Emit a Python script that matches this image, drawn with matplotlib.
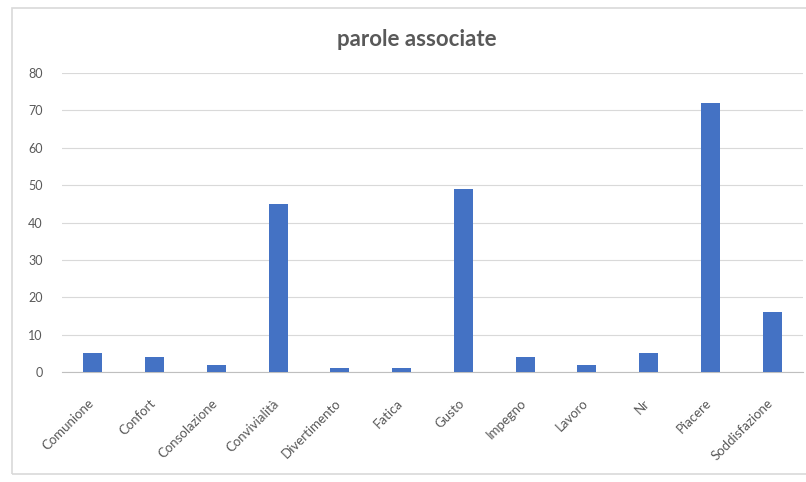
import matplotlib
matplotlib.use("Agg")
import matplotlib.pyplot as plt
from matplotlib.patches import Rectangle
from matplotlib.transforms import ScaledTranslation

categories = ["Comunione", "Confort", "Consolazione", "Convivialità", "Divertimento",
              "Fatica", "Gusto", "Impegno", "Lavoro", "Nr", "Piacere", "Soddisfazione"]
values = [5, 4, 2, 45, 1, 1, 49, 4, 2, 5, 72, 16]
y_ticks = [0, 10, 20, 30, 40, 50, 60, 70, 80]

plt.rcParams["font.family"] = ["Lato", "DejaVu Sans"]

fig = plt.figure(figsize=(8.06, 4.82), dpi=100)
fig.patch.set_facecolor("white")

# chart frame
fig.patches.append(Rectangle((12 / 806, 1 - 474 / 482), 1.0, (474 - 8) / 482,
                             transform=fig.transFigure, fill=False,
                             edgecolor="#d9d9d9", linewidth=1.2))

ax = fig.add_axes([62 / 806, 1 - 372 / 482, (803 - 62) / 806, (372 - 73) / 482])
x = range(len(categories))
ax.bar(x, values, width=0.31, color="#4472C4", zorder=3)

ax.set_ylim(0, 80)
ax.set_xlim(-0.5, len(categories) - 0.5)
ax.set_yticks(y_ticks)
ax.set_yticklabels([str(v) for v in y_ticks], color="#595959", fontsize=9)
ax.set_xticks(list(x))
ax.set_xticklabels(categories, rotation=45, ha="right", rotation_mode="anchor",
                   color="#595959", fontsize=9.5)
ax.tick_params(axis="y", length=0, pad=14)
ax.tick_params(axis="x", length=0, pad=18)

# nudge the rotated category labels slightly left so they end under the bars
shift = ScaledTranslation(-5 / 100, 0, fig.dpi_scale_trans)
for lbl in ax.get_xticklabels():
    lbl.set_transform(lbl.get_transform() + shift)

ax.grid(axis="y", color="#d9d9d9", linewidth=0.8, zorder=0)
for side in ["top", "right", "left"]:
    ax.spines[side].set_visible(False)
ax.spines["bottom"].set_color("#bfbfbf")
ax.spines["bottom"].set_linewidth(0.8)

fig.text(417 / 806, 1 - 40 / 482, "parole associate", ha="center", va="center",
         fontsize=16, fontweight="bold", color="#595959")

fig.savefig("out.png", dpi=100)
